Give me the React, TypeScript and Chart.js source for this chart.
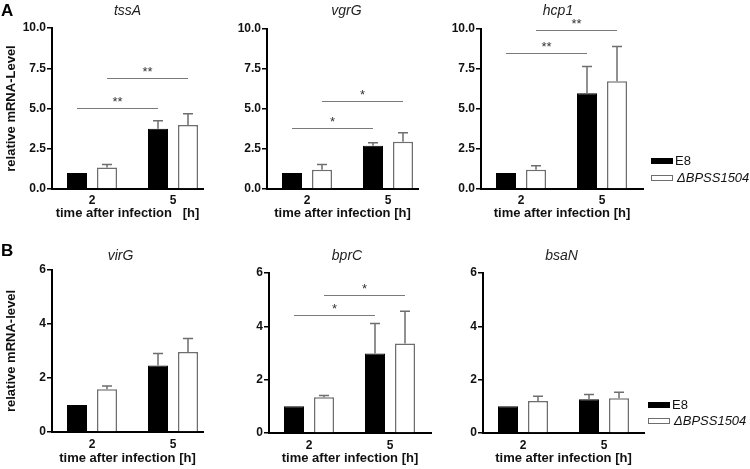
import React, { useEffect, useRef } from 'react';
import { Chart, registerables } from 'chart.js';

Chart.register(...registerables);

const FONT = '"Liberation Sans", Arial, Helvetica, sans-serif';

// ---------- data ----------
const timepoints = ['2', '5'];
const strainLabels = ['E8', 'ΔBPSS1504'];

const tssA_E8 = [1.0, 3.75];
const tssA_E8_sd = [0, 0.49];
const tssA_KO = [1.33, 3.97];
const tssA_KO_sd = [0.19, 0.71];
const tssA_sigLevels = [5.05, 6.92];
const tssA_sigStars = ['**', '**'];

const vgrG_E8 = [1.0, 2.7];
const vgrG_E8_sd = [0, 0.19];
const vgrG_KO = [1.21, 2.95];
const vgrG_KO_sd = [0.32, 0.56];
const vgrG_sigLevels = [3.83, 5.5];
const vgrG_sigStars = ['*', '*'];

const hcp1_E8 = [1.0, 5.98];
const hcp1_E8_sd = [0, 1.67];
const hcp1_KO = [1.2, 6.73];
const hcp1_KO_sd = [0.26, 2.17];
const hcp1_sigLevels = [8.52, 9.96];
const hcp1_sigStars = ['**', '**'];

const virG_E8 = [1.0, 2.46];
const virG_E8_sd = [0, 0.45];
const virG_KO = [1.58, 2.96];
const virG_KO_sd = [0.12, 0.5];

const bprC_E8 = [1.0, 2.98];
const bprC_E8_sd = [0, 1.13];
const bprC_KO = [1.34, 3.36];
const bprC_KO_sd = [0.07, 1.21];
const bprC_sigLevels = [4.41, 5.16];
const bprC_sigStars = ['*', '*'];

const bsaN_E8 = [1.0, 1.27];
const bsaN_E8_sd = [0, 0.17];
const bsaN_KO = [1.2, 1.3];
const bsaN_KO_sd = [0.18, 0.23];

const yTicksA = [0, 2.5, 5, 7.5, 10];
const yTicksB = [0, 2, 4, 6];

// ---------- layout ----------
type PanelCfg = {
  gene: string;
  e8: number[]; e8sd: number[]; ko: number[]; kosd: number[];
  sig: number[] | null; stars: string[] | null;
  yTicks: number[]; decimals: number; yTitle: string | null;
  xTitle: string;
  letter: string | null; letterY: number;
  legend: [number, number, number] | null;
  box: [number, number, number, number];
  area: [number, number, number, number];
  titleY: number; titleDx: number;
  xTickPad: number; xTitlePadB: number;
};

const panels: PanelCfg[] = [
  {
    gene: 'tssA', e8: tssA_E8, e8sd: tssA_E8_sd, ko: tssA_KO, kosd: tssA_KO_sd,
    sig: tssA_sigLevels, stars: tssA_sigStars, yTicks: yTicksA, decimals: 1,
    yTitle: 'relative mRNA-Level', xTitle: 'time after infection   [h]',
    letter: 'A', letterY: 11, legend: null,
    box: [0, 0, 235, 230], area: [52, 28, 203, 189], titleY: 11, titleDx: 0,
    xTickPad: 4, xTitlePadB: 9,
  },
  {
    gene: 'vgrG', e8: vgrG_E8, e8sd: vgrG_E8_sd, ko: vgrG_KO, kosd: vgrG_KO_sd,
    sig: vgrG_sigLevels, stars: vgrG_sigStars, yTicks: yTicksA, decimals: 1,
    yTitle: null, xTitle: 'time after infection [h]',
    letter: null, letterY: 0, legend: null,
    box: [235, 0, 215, 230], area: [267, 29, 418, 189], titleY: 11, titleDx: 4,
    xTickPad: 4, xTitlePadB: 9,
  },
  {
    gene: 'hcp1', e8: hcp1_E8, e8sd: hcp1_E8_sd, ko: hcp1_KO, kosd: hcp1_KO_sd,
    sig: hcp1_sigLevels, stars: hcp1_sigStars, yTicks: yTicksA, decimals: 1,
    yTitle: null, xTitle: 'time after infection [h]',
    letter: null, letterY: 0, legend: [651, 158, 17],
    box: [450, 0, 300, 230], area: [481, 29, 643, 189], titleY: 11, titleDx: -4,
    xTickPad: 4, xTitlePadB: 9,
  },
  {
    gene: 'virG', e8: virG_E8, e8sd: virG_E8_sd, ko: virG_KO, kosd: virG_KO_sd,
    sig: null, stars: null, yTicks: yTicksB, decimals: 0,
    yTitle: 'relative mRNA-level', xTitle: 'time after infection [h]',
    letter: 'B', letterY: 251, legend: null,
    box: [0, 230, 235, 239], area: [52, 270, 203, 432], titleY: 256, titleDx: -7,
    xTickPad: 5, xTitlePadB: 3,
  },
  {
    gene: 'bprC', e8: bprC_E8, e8sd: bprC_E8_sd, ko: bprC_KO, kosd: bprC_KO_sd,
    sig: bprC_sigLevels, stars: bprC_sigStars, yTicks: yTicksB, decimals: 0,
    yTitle: null, xTitle: 'time after infection [h]',
    letter: null, letterY: 0, legend: null,
    box: [235, 230, 215, 239], area: [269, 273, 431, 433], titleY: 256, titleDx: -3,
    xTickPad: 5, xTitlePadB: 3,
  },
  {
    gene: 'bsaN', e8: bsaN_E8, e8sd: bsaN_E8_sd, ko: bsaN_KO, kosd: bsaN_KO_sd,
    sig: null, stars: null, yTicks: yTicksB, decimals: 0,
    yTitle: null, xTitle: 'time after infection [h]',
    letter: null, letterY: 0, legend: [648, 402, 16],
    box: [450, 230, 300, 239], area: [483, 273, 644, 433], titleY: 256, titleDx: -2,
    xTickPad: 5, xTitlePadB: 3,
  },
];

const GROUP_PX = 81;

const annotPlugin = {
  id: 'annot',
  afterDatasetsDraw(chart: any, _args: any, opts: any) {
    const cfg: PanelCfg = opts.cfg;
    const ctx = chart.ctx;
    const ys = chart.scales.y;
    const vals = [cfg.e8, cfg.ko];
    const sds = [cfg.e8sd, cfg.kosd];
    ctx.save();
    // error bars
    ctx.strokeStyle = '#6e6e6e';
    ctx.lineWidth = 1.5;
    for (let d = 0; d < 2; d++) {
      const meta = chart.getDatasetMeta(d);
      meta.data.forEach((bar: any, i: number) => {
        const sd = sds[d][i];
        if (!sd) return;
        const yTop = ys.getPixelForValue(vals[d][i] + sd);
        const x = bar.x;
        ctx.beginPath();
        ctx.moveTo(x, bar.y);
        ctx.lineTo(x, yTop);
        ctx.moveTo(x - 5, yTop);
        ctx.lineTo(x + 5, yTop);
        ctx.stroke();
      });
    }
    // significance brackets
    if (cfg.sig && cfg.stars) {
      ctx.strokeStyle = '#7a7a7a';
      ctx.lineWidth = 1;
      ctx.fillStyle = '#333';
      ctx.font = `13px ${FONT}`;
      ctx.textAlign = 'center';
      ctx.textBaseline = 'middle';
      for (let d = 0; d < 2; d++) {
        const meta = chart.getDatasetMeta(d);
        const x0 = meta.data[0].x;
        const x1 = meta.data[1].x;
        const yy = Math.round(ys.getPixelForValue(cfg.sig[d])) + 0.5;
        ctx.beginPath();
        ctx.moveTo(x0, yy);
        ctx.lineTo(x1, yy);
        ctx.stroke();
        ctx.fillText(cfg.stars[d], (x0 + x1) / 2, yy - 6);
      }
    }
    ctx.restore();
  },
  afterDraw(chart: any, _args: any, opts: any) {
    const cfg: PanelCfg = opts.cfg;
    const ctx = chart.ctx;
    const [bx, by] = cfg.box;
    const ca = chart.chartArea;
    ctx.save();
    // gene title
    ctx.fillStyle = '#222';
    ctx.font = `italic 14px ${FONT}`;
    ctx.textAlign = 'center';
    ctx.textBaseline = 'middle';
    ctx.fillText(cfg.gene, (ca.left + ca.right) / 2 + cfg.titleDx, cfg.titleY - by);
    // panel letter
    if (cfg.letter) {
      ctx.font = `bold 17px ${FONT}`;
      ctx.textAlign = 'left';
      ctx.fillStyle = '#000';
      ctx.fillText(cfg.letter, 1, cfg.letterY - by);
    }
    // legend
    if (cfg.legend) {
      const [lx, ly, step] = cfg.legend;
      const x = lx - bx;
      const y = ly - by;
      ctx.fillStyle = '#000';
      ctx.fillRect(x, y, 22, 6);
      ctx.fillStyle = '#fff';
      ctx.fillRect(x, y + step, 22, 6);
      ctx.strokeStyle = '#6e6e6e';
      ctx.lineWidth = 1;
      ctx.strokeRect(x + 0.5, y + step + 0.5, 21, 5);
      ctx.fillStyle = '#111';
      ctx.textAlign = 'left';
      ctx.textBaseline = 'middle';
      ctx.font = `13px ${FONT}`;
      ctx.fillText(strainLabels[0], x + 24, y + 3);
      ctx.font = `italic 13px ${FONT}`;
      ctx.fillText(strainLabels[1], x + 26, y + step + 3);
    }
    ctx.restore();
  },
};

function Panel({ cfg }: { cfg: PanelCfg }) {
  const ref = useRef<HTMLCanvasElement>(null);
  useEffect(() => {
    const [bx, by, bw, bh] = cfg.box;
    const [al, at, ar, ab] = cfg.area;
    const xMin = -40 / GROUP_PX;
    const xMax = xMin + (ar - al) / GROUP_PX;
    const yMax = cfg.yTicks[cfg.yTicks.length - 1];
    const chart = new Chart(ref.current as HTMLCanvasElement, {
      type: 'bar',
      data: {
        datasets: [
          {
            label: strainLabels[0],
            data: cfg.e8.map((v, i) => ({ x: i, y: v })) as any,
            backgroundColor: '#000',
            borderColor: '#000',
            borderWidth: 1,
          },
          {
            label: strainLabels[1],
            data: cfg.ko.map((v, i) => ({ x: i, y: v })) as any,
            backgroundColor: '#fff',
            borderColor: '#6e6e6e',
            borderWidth: 1.5,
          },
        ],
      },
      options: {
        responsive: false,
        animation: false,
        devicePixelRatio: 1,
        layout: { padding: { left: 0, top: at - by, right: bx + bw - ar, bottom: 0 } },
        datasets: { bar: { categoryPercentage: 60 / GROUP_PX, barPercentage: 2 / 3 } },
        plugins: {
          legend: { display: false },
          tooltip: { enabled: false },
          annot: { cfg },
        } as any,
        scales: {
          x: {
            type: 'linear',
            offset: false,
            min: xMin,
            max: xMax,
            afterBuildTicks: (s: any) => {
              s.ticks = timepoints.map((_, i) => ({ value: i }));
            },
            afterFit: (s: any) => {
              s.height = by + bh - ab;
            },
            grid: { display: false, drawTicks: false },
            border: { display: true, color: '#000', width: 2 },
            ticks: {
              callback: (_v: any, i: number) => timepoints[i],
              font: { family: FONT, size: 12, weight: 'bold' },
              color: '#111',
              padding: cfg.xTickPad,
              autoSkip: false,
              maxRotation: 0,
            },
            title: {
              display: true,
              text: cfg.xTitle,
              font: { family: FONT, size: 13, weight: 'bold' },
              color: '#111',
              padding: { top: 0, bottom: cfg.xTitlePadB },
            },
          } as any,
          y: {
            type: 'linear',
            min: 0,
            max: yMax,
            afterBuildTicks: (s: any) => {
              s.ticks = cfg.yTicks.map((v) => ({ value: v }));
            },
            afterFit: (s: any) => {
              s.width = al - bx;
            },
            grid: { drawOnChartArea: false, drawTicks: true, tickLength: 5, color: '#000', lineWidth: 1.5 },
            border: { display: true, color: '#000', width: 2 },
            ticks: {
              callback: (v: any) => Number(v).toFixed(cfg.decimals),
              font: { family: FONT, size: 12, weight: 'bold' },
              color: '#111',
              padding: 1,
            },
            title: {
              display: !!cfg.yTitle,
              text: cfg.yTitle || '',
              font: { family: FONT, size: 13, weight: 'bold' },
              color: '#111',
              padding: { top: 4, bottom: 0 },
            },
          } as any,
        },
      },
      plugins: [annotPlugin as any],
    });
    return () => chart.destroy();
  }, [cfg]);
  const [bx, by, bw, bh] = cfg.box;
  return (
    <div style={{ position: 'absolute', left: bx, top: by, width: bw, height: bh }}>
      <canvas ref={ref} width={bw} height={bh} style={{ display: 'block' }} />
    </div>
  );
}

export default function App() {
  return (
    <div style={{ position: 'absolute', left: 0, top: 0, width: 750, height: 469, background: '#fff', overflow: 'hidden' }}>
      {panels.map((p) => (
        <Panel key={p.gene} cfg={p} />
      ))}
    </div>
  );
}
